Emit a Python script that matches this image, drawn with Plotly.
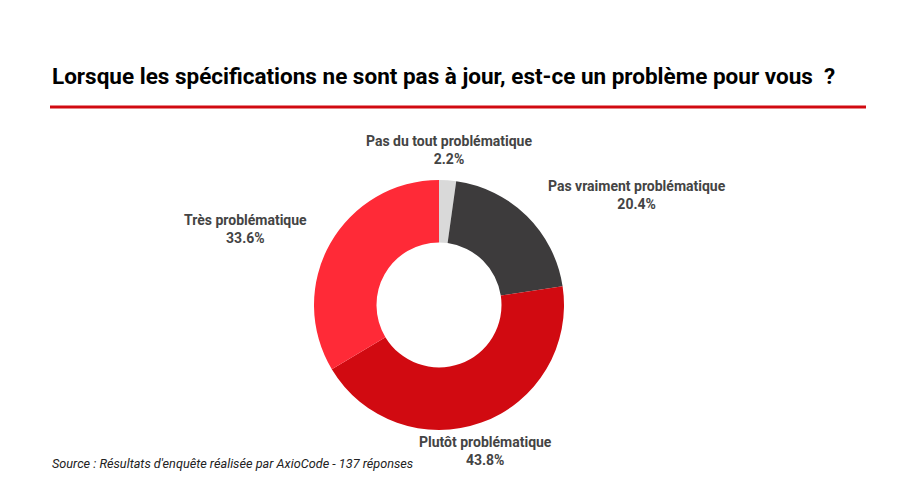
import math
import plotly.graph_objects as go

labels = ["Pas du tout problématique", "Pas vraiment problématique", "Plutôt problématique", "Très problématique"]
values = [2.2, 20.4, 43.8, 33.6]
colors = ["#d9d9d9", "#3d3b3c", "#d10a11", "#ff2a37"]

W, H = 900, 500
cx, cy, R = 439, 305, 125  # pixel centre / radius of the donut
LR = 138  # label radius

fig = go.Figure(go.Pie(
    labels=labels, values=values, hole=0.5, sort=False, direction="clockwise", rotation=0,
    marker=dict(colors=colors, line=dict(width=0)), textinfo="none", hoverinfo="label+percent",
    domain=dict(x=[(cx - R) / W, (cx + R) / W], y=[(H - cy - R) / H, (H - cy + R) / H]),
    showlegend=False,
))

total = sum(values)
acc = 0
for lab, v in zip(labels, values):
    mid = (acc + v / 2) / total * 2 * math.pi
    acc += v
    s, c = math.sin(mid), math.cos(mid)
    px, py = cx + LR * s, cy - LR * c - c * 17
    if s > 0.5:
        xa, px = "left", px + 10
    elif s < -0.5:
        xa, px = "right", px - 10
    else:
        xa = "center"
    fig.add_annotation(x=px / W, y=1 - py / H, xref="paper", yref="paper", xanchor=xa, yanchor="middle",
                       text=f"<b>{lab}</b><br><b>{v:.1f}%</b>", showarrow=False, align="center",
                       font=dict(family="Roboto", size=14, color="#444444"))

fig.add_annotation(x=50 / W, y=1 - 76 / H, xref="paper", yref="paper", xanchor="left", yanchor="middle",
                   text="<b>Lorsque les spécifications ne sont pas à jour, est-ce un problème pour vous  ?</b>",
                   showarrow=False, font=dict(family="Roboto", size=22.5, color="#000000"))
fig.add_shape(type="line", xref="paper", yref="paper", x0=50 / W, x1=866 / W, y0=1 - 107 / H, y1=1 - 107 / H,
              line=dict(color="#d10a11", width=3))
fig.add_annotation(x=50 / W, y=1 - 463 / H, xref="paper", yref="paper", xanchor="left", yanchor="middle",
                   text="<i>Source : Résultats d'enquête réalisée par AxioCode - 137 réponses</i>",
                   showarrow=False, font=dict(family="Roboto", size=12.7, color="#222222"))

fig.update_layout(width=W, height=H, margin=dict(l=0, r=0, t=0, b=0), paper_bgcolor="white",
                  plot_bgcolor="white")
fig.write_html("out.html")
